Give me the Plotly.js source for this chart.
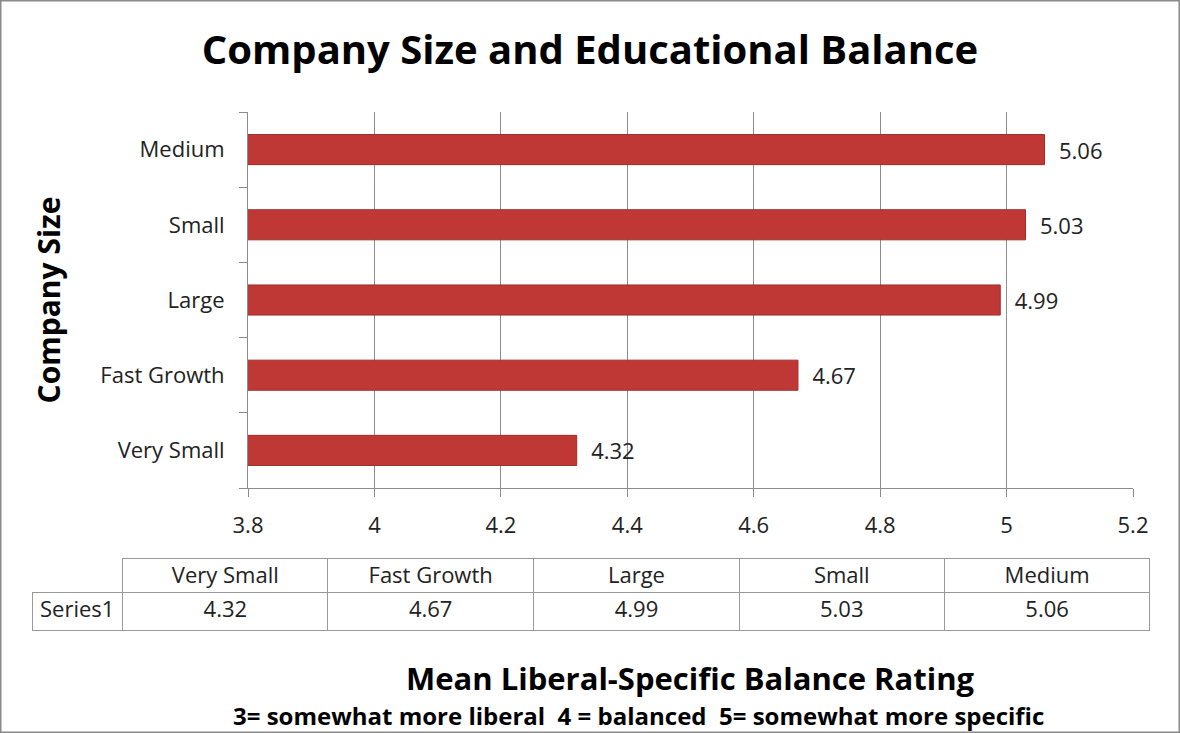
<!DOCTYPE html>
<html>
<head>
<meta charset="utf-8">
<script src="https://cdn.plot.ly/plotly-3.0.1.min.js"></script>
<style>
  html, body { margin: 0; padding: 0; background: #fff; }
  #chart { width: 1180px; height: 733px; }
</style>
</head>
<body>
<div id="chart"></div>
<script>
const categories = ['Very Small', 'Fast Growth', 'Large', 'Small', 'Medium'];
const values = [4.32, 4.67, 4.99, 5.03, 5.06];
const seriesName = 'Series1';
const xTickVals = [3.8, 4, 4.2, 4.4, 4.6, 4.8, 5, 5.2];
const xTickText = ['3.8', '4', '4.2', '4.4', '4.6', '4.8', '5', '5.2'];

const W = 1180, H = 733;
const FONT = '"Open Sans", Lato, sans-serif';

const barTrace = {
  type: 'bar',
  orientation: 'h',
  y: categories,
  x: values,
  name: seriesName,
  width: 0.4,
  marker: { color: '#bf3835', line: { color: '#a02c2a', width: 1 } },
  text: values.map(v => v.toFixed(2)),
  texttemplate: '  %{text}',
  textposition: 'outside',
  cliponaxis: false,
  textfont: { family: FONT, size: 22, color: '#222' },
  hoverinfo: 'x+y',
  showlegend: false
};

const tableTrace = {
  type: 'table',
  domain: { x: [32 / W, 1150 / W], y: [1 - 632 / H, 1 - 558 / H] },
  columnwidth: [91, 205, 206, 206, 205, 206],
  header: {
    values: [''].concat(categories),
    height: 34,
    align: 'center',
    fill: { color: 'white' },
    line: { color: ['rgba(0,0,0,0)'].concat(categories.map(() => '#9a9a9a')), width: 1 },
    font: { family: FONT, size: 22, color: '#222' }
  },
  cells: {
    values: [[seriesName]].concat(values.map(v => [v.toFixed(2)])),
    height: 38,
    align: ['left'].concat(categories.map(() => 'center')),
    fill: { color: 'white' },
    line: { color: '#9a9a9a', width: 1 },
    font: { family: FONT, size: 22, color: '#222' }
  }
};

const layout = {
  width: W,
  height: H,
  margin: { l: 0, r: 0, t: 0, b: 0 },
  paper_bgcolor: 'white',
  plot_bgcolor: 'white',
  font: { family: FONT, color: '#222' },
  title: {
    text: '<b>Company Size and Educational Balance</b>',
    font: { family: FONT, size: 40, color: '#000' },
    x: 590 / W, xanchor: 'center',
    y: 1 - 50 / H, yanchor: 'middle',
    xref: 'paper', yref: 'paper'
  },
  xaxis: {
    domain: [248 / W, 1133 / W],
    range: [3.8, 5.2],
    tickvals: xTickVals,
    ticktext: xTickText,
    showgrid: true,
    gridcolor: '#8c8c8c',
    gridwidth: 1,
    showline: true,
    linecolor: '#8c8c8c',
    linewidth: 1,
    ticks: 'outside',
    ticklen: 8,
    tickcolor: '#8c8c8c',
    ticklabelstandoff: 10,
    tickfont: { family: FONT, size: 22, color: '#222' },
    zeroline: false,
    fixedrange: true
  },
  yaxis: {
    domain: [1 - 488 / H, 1 - 112 / H],
    type: 'category',
    categoryorder: 'array',
    categoryarray: categories,
    showgrid: false,
    showline: true,
    linecolor: '#8c8c8c',
    linewidth: 1,
    ticks: 'outside',
    tickson: 'boundaries',
    ticklen: 8,
    tickcolor: '#8c8c8c',
    ticklabelstandoff: 18,
    tickfont: { family: FONT, size: 22, color: '#222' },
    title: {
      text: '<b>Company Size</b>',
      font: { family: FONT, size: 30, color: '#000' },
      standoff: 30
    },
    fixedrange: true
  },
  annotations: [
    {
      text: '<b>Mean Liberal-Specific Balance Rating</b>',
      xref: 'paper', yref: 'paper',
      x: 690 / W, y: 1 - 678 / H,
      xanchor: 'center', yanchor: 'middle',
      showarrow: false,
      font: { family: FONT, size: 31, color: '#000' }
    },
    {
      text: '<b>3= somewhat more liberal  4 = balanced  5= somewhat more specific</b>',
      xref: 'paper', yref: 'paper',
      x: 638 / W, y: 1 - 715 / H,
      xanchor: 'center', yanchor: 'middle',
      showarrow: false,
      font: { family: FONT, size: 24, color: '#000' }
    }
  ],
  shapes: [
    {
      type: 'rect', xref: 'paper', yref: 'paper',
      x0: 0, x1: 1, y0: 0, y1: 1,
      line: { color: '#8a8a8a', width: 3 },
      fillcolor: 'rgba(0,0,0,0)',
      layer: 'above'
    }
  ]
};

Plotly.newPlot('chart', [barTrace, tableTrace], layout, { displayModeBar: false, staticPlot: true });
</script>
</body>
</html>
